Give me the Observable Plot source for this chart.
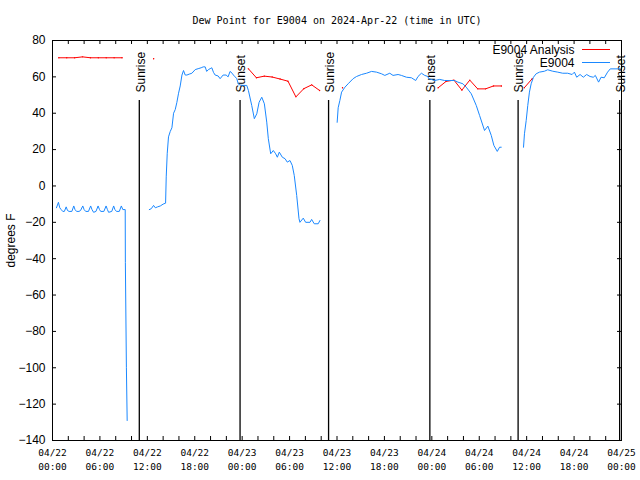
<!DOCTYPE html>
<html><head><meta charset="utf-8">
<script src="https://cdn.jsdelivr.net/npm/d3@7"></script>
<script src="https://cdn.jsdelivr.net/npm/@observablehq/plot@0.6"></script>
<style>body{margin:0;background:#fff}svg{display:block}</style>
</head><body><div id="chart"></div>
<script>
// ---- data (hours since 2024-04-22 00:00 UTC, dew point °F) ----
const titleText = "Dew Point for E9004 on 2024-Apr-22 (time in UTC)";
const yLabel = "degrees F";
const seriesNames = ["E9004 Analysis", "E9004"];
const yTickValues = [-140, -120, -100, -80, -60, -40, -20, 0, 20, 40, 60, 80];

const obsSeg1 = [[0.5,-12],[0.75,-9],[0.92,-12],[1.1,-13],[1.3,-14],[1.5,-14],[1.73,-11.5],[1.9,-13.5],[2.1,-14],[2.45,-14],[2.69,-11],[2.85,-13],[3.05,-14],[3.35,-14],[3.55,-13.5],[3.83,-11],[4.0,-13],[4.2,-14],[4.55,-14],[4.83,-11],[5.0,-13],[5.2,-14.5],[5.5,-14],[5.77,-11],[5.95,-13],[6.1,-14],[6.5,-14],[6.78,-11],[6.95,-13],[7.1,-14.5],[7.5,-14],[7.74,-11],[7.9,-13],[8.1,-14],[8.45,-14],[8.71,-11],[8.9,-13],[9.05,-13],[9.2,-13],[9.22,-42],[9.35,-100],[9.45,-129]];
const obsSeg2 = [[12.25,-13],[12.5,-12.5],[12.79,-10.7],[13.01,-12],[13.3,-11.5],[13.64,-11],[14.0,-10],[14.27,-9.5],[14.31,-9.5],[14.39,5],[14.52,18],[14.68,27],[14.9,30],[15.11,32],[15.32,40],[15.53,42],[15.74,46],[15.95,51],[16.16,55],[16.38,61],[16.58,63.5],[16.79,61],[17.01,61],[17.3,61.5],[17.64,62],[18.06,64],[18.43,64.5],[18.81,65],[19.07,65.5],[19.32,65.5],[19.51,63],[19.73,64],[19.95,64.5],[20.16,65],[20.37,62.5],[20.58,61],[20.96,60.5],[21.21,59],[21.59,61],[21.97,61],[22.22,60],[22.47,63],[22.73,62],[22.89,61],[23.11,60],[23.32,59],[23.52,56],[23.74,55.5],[24.12,55.3],[24.58,55.3],[24.79,52.5],[25.21,44.3],[25.54,37],[25.85,39.7],[26.14,46],[26.48,48.8],[26.81,45.2],[27.11,35.1],[27.31,26],[27.61,17.7],[27.94,19.5],[28.24,17.7],[28.45,15.8],[28.7,18.6],[29.08,15.8],[29.42,15],[29.71,13.1],[30.05,14],[30.34,11.3],[30.59,5.8],[30.9,-5.2],[31.19,-18],[31.31,-20],[31.73,-17.7],[32.03,-20],[32.58,-20],[32.79,-18.4],[33.12,-20.8],[33.62,-20.8],[33.84,-19]];
const obsSeg3 = [[36.02,35],[36.15,43],[36.36,47],[36.58,51.6],[37.0,54.3],[37.41,56.2],[38.04,59],[38.47,60.2],[39.1,61.3],[39.74,62],[40.37,63],[41.0,62.6],[41.63,61.7],[42.05,60.8],[42.68,62],[43.09,60.8],[43.73,61.3],[44.15,60.8],[44.79,59.8],[45.42,59.5],[45.96,58],[46.25,60.2],[46.68,62],[47.1,60.8],[47.51,60.2],[47.6,59],[48.36,58],[48.99,58.6],[49.62,58],[50.25,58],[50.88,58],[51.3,57.1],[51.93,56.2],[52.36,54.3],[52.99,50.7],[53.62,44.3],[54.04,38.8],[54.67,30.5],[55.09,32.9],[55.52,27.8],[55.85,22.3],[56.28,19],[56.57,21.3],[56.78,21.3]];
const obsSeg4 = [[59.6,21.3],[59.72,28.7],[59.94,36],[60.14,44.3],[60.35,51.6],[60.57,56.2],[60.86,59.8],[61.2,61.7],[61.62,62.6],[62.25,63.1],[62.66,63.9],[63.3,63.1],[63.93,62.6],[64.56,62],[65.19,62],[65.75,61.3],[66.04,62.6],[66.33,59.8],[66.76,61.3],[67.17,59.8],[67.59,61.3],[68.02,60.2],[68.43,59.8],[68.69,60.8],[69.1,57.1],[69.41,59.8],[69.82,59.5],[70.24,62.6],[70.58,64.4],[71.3,64.4],[71.84,64.4]];

const anaSeg1 = [[0.8,70.5],[1.8,70.5],[2.8,70.5],[3.8,71],[4.8,70.5],[5.8,70.5],[6.8,70.5],[7.8,70.5],[8.8,70.5]];
const anaSeg2 = [[12.8,70]];
const anaSeg3 = [[24.8,64.4],[25.8,59.5],[26.8,60.4],[27.8,59.9],[28.8,58.8],[29.8,57.6],[30.8,49],[31.8,53.5],[32.8,55.6],[33.8,52.5]];
const anaSeg4 = [[36.7,54]];
const anaSeg5 = [[48.8,54],[49.8,57.5],[50.8,58.2],[51.8,52.7],[52.8,58.2],[53.8,53.4],[54.8,53.4],[55.8,55],[56.8,55]];
const anaSeg6 = [[59.7,54],[60.7,59]];

const sunriseTimes = ["2024-04-22T10:59Z", "2024-04-23T10:56Z", "2024-04-24T10:55Z"];
const sunsetTimes  = ["2024-04-22T23:44Z", "2024-04-23T23:45Z", "2024-04-24T23:46Z"];

// ---- build tables ----
const T0 = Date.UTC(2024, 3, 22);
const toDate = h => new Date(T0 + h * 3600e3);
const obsRows = [], anaRows = [];
[obsSeg1, obsSeg2, obsSeg3, obsSeg4].forEach((s, i) => s.forEach(([h, v]) => obsRows.push({t: toDate(h), v, z: i})));
[anaSeg1, anaSeg2, anaSeg3, anaSeg4, anaSeg5, anaSeg6].forEach((s, i) => s.forEach(([h, v]) => anaRows.push({t: toDate(h), v, z: i})));
const sunEvents = [
  ...sunriseTimes.map(s => ({t: new Date(s), label: "Sunrise"})),
  ...sunsetTimes.map(s => ({t: new Date(s), label: "Sunset"}))
];
const xStart = toDate(0), xEnd = toDate(72);
const xMajor = d3.utcHours(xStart, new Date(+xEnd + 1), 6);
const xMinor = d3.utcHours(xStart, new Date(+xEnd + 1), 2).filter(d => d.getUTCHours() % 6 !== 0);

const red = "#ff0000", blue = "#1a88ff";
const mono = "DejaVu Sans Mono, monospace";
const sans = "Liberation Sans, Arial, sans-serif";
const W = 640, H = 480, mL = 52, mR = 19, mT = 40, mB = 40;
const pw = W - mL - mR, ph = H - mT - mB;
const fmtD = d3.utcFormat("%m/%d"), fmtH = d3.utcFormat("%H:%M");

const legendSwatches = () => {
  const g = d3.create("svg:g");
  const x2 = W - mR - 11, x1 = x2 - 28;
  [[red, 9.5], [blue, 22.5]].forEach(([c, dy]) => {
    g.append("line").attr("x1", x1).attr("x2", x2)
      .attr("y1", mT + dy).attr("y2", mT + dy)
      .attr("stroke", c).attr("stroke-width", 1);
  });
  return g.node();
};

const chart = Plot.plot({
  width: W, height: H,
  marginLeft: mL, marginRight: mR, marginTop: mT, marginBottom: mB,
  style: {background: "white", color: "black", fontFamily: sans, fontSize: "12px", overflow: "visible"},
  x: {type: "utc", domain: [xStart, xEnd]},
  y: {domain: [-140, 80]},
  marks: [
    Plot.axisY({ticks: yTickValues, tickSize: 0, tickPadding: 7, label: null, fontFamily: sans, fontSize: 12}),
    Plot.axisX({ticks: xMajor, tickSize: 0, tickPadding: 6, label: null, fontFamily: mono, fontSize: 9.5, lineHeight: 1.45,
      tickFormat: d => fmtD(d) + "\n" + fmtH(d)}),
    Plot.tickY(yTickValues, {y: d => d, insetRight: pw - 4, stroke: "black"}),
    Plot.tickY(yTickValues, {y: d => d, insetLeft: pw - 4, stroke: "black"}),
    Plot.tickX(xMajor.concat(xMinor), {x: d => d, insetTop: ph - 4, stroke: "black"}),
    Plot.tickX(xMajor.concat(xMinor), {x: d => d, insetBottom: ph - 4, stroke: "black"}),
    Plot.ruleX(sunEvents, {x: "t", insetTop: 60, stroke: "black", strokeWidth: 1.3}),
    Plot.text(sunEvents, {x: "t", text: "label", frameAnchor: "top", rotate: -90, textAnchor: "start", lineAnchor: "middle", dy: 52, dx: 1.5, fontFamily: sans, fontSize: 12, fill: "black"}),
    Plot.line(anaRows, {x: "t", y: "v", z: "z", stroke: red, strokeWidth: 1}),
    Plot.dot(anaRows, {x: "t", y: "v", r: 0.7, fill: red, stroke: null}),
    Plot.line(obsRows, {x: "t", y: "v", z: "z", stroke: blue, strokeWidth: 1}),
    Plot.frame({stroke: "black", strokeWidth: 1}),
    Plot.text([titleText], {frameAnchor: "top", lineAnchor: "middle", dy: -20, fontFamily: mono, fontSize: 10, fill: "black"}),
    Plot.text([yLabel], {frameAnchor: "left", rotate: -90, textAnchor: "middle", lineAnchor: "middle", dx: -41, fontFamily: sans, fontSize: 12, fill: "black"}),
    Plot.text([seriesNames[0]], {frameAnchor: "top-right", textAnchor: "end", lineAnchor: "middle", dx: -47, dy: 10, fontFamily: sans, fontSize: 12, fill: "black"}),
    Plot.text([seriesNames[1]], {frameAnchor: "top-right", textAnchor: "end", lineAnchor: "middle", dx: -47, dy: 23, fontFamily: sans, fontSize: 12, fill: "black"}),
    legendSwatches
  ]
});
document.getElementById("chart").appendChild(chart);
</script>
</body></html>
